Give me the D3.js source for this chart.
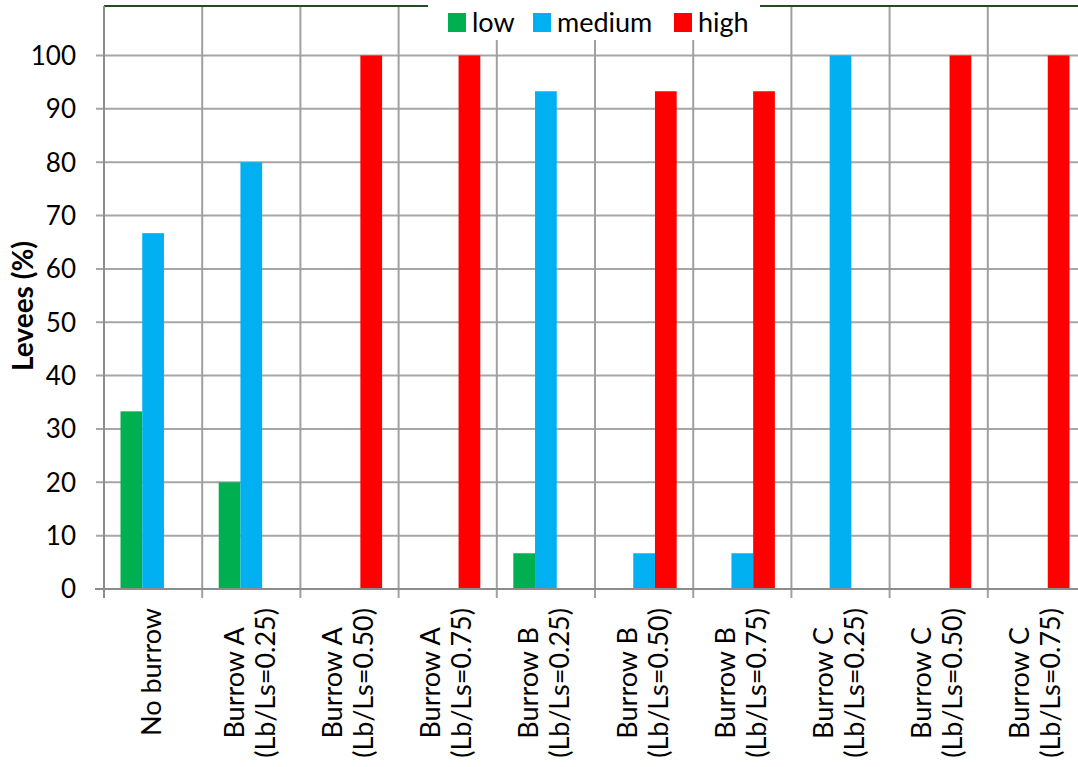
<!DOCTYPE html>
<html>
<head>
<meta charset="utf-8">
<script src="https://cdn.jsdelivr.net/npm/d3@7"></script>
<style>
  html, body { margin: 0; padding: 0; background: #fff; }
  svg { display: block; }
  text { font-family: Lato, "Open Sans", sans-serif; fill: #000; }
</style>
</head>
<body>
<svg id="chart" width="1078" height="767"></svg>
<script>
const categories = [
  ["No burrow"],
  ["Burrow A", "(Lb/Ls=0.25)"],
  ["Burrow A", "(Lb/Ls=0.50)"],
  ["Burrow A", "(Lb/Ls=0.75)"],
  ["Burrow B", "(Lb/Ls=0.25)"],
  ["Burrow B", "(Lb/Ls=0.50)"],
  ["Burrow B", "(Lb/Ls=0.75)"],
  ["Burrow C", "(Lb/Ls=0.25)"],
  ["Burrow C", "(Lb/Ls=0.50)"],
  ["Burrow C", "(Lb/Ls=0.75)"]
];
const seriesNames = ["low", "medium", "high"];
const lowValues    = [33.3, 20, 0, 0, 6.7, 0, 0, 0, 0, 0];
const mediumValues = [66.7, 80, 0, 0, 93.3, 6.7, 6.7, 100, 0, 0];
const highValues   = [0, 0, 100, 100, 0, 93.3, 93.3, 0, 100, 100];
const yTicks = [0, 10, 20, 30, 40, 50, 60, 70, 80, 90, 100];
const colors = ["#00B050", "#00B0F0", "#FF0000"];

const seriesValues = [lowValues, mediumValues, highValues];

const svg = d3.select("#chart");
const plotLeft = 104, plotRight = 1086, plotTop = 6, plotBottom = 589;

const y = d3.scaleLinear().domain([0, 100]).range([plotBottom, 55.5]);
const x0 = d3.scaleBand().domain(d3.range(categories.length)).range([plotLeft, plotRight]).padding(0);
const x1 = d3.scaleBand().domain(d3.range(seriesNames.length)).range([0, x0.bandwidth()]).paddingInner(0).paddingOuter(0.76);

// horizontal gridlines
svg.append("g").selectAll("line").data(yTicks.filter(d => d > 0)).join("line")
  .attr("x1", plotLeft - 8).attr("x2", plotRight)
  .attr("y1", d => y(d)).attr("y2", d => y(d))
  .attr("stroke", "#a6a6a6").attr("stroke-width", 2);

// vertical gridlines at category boundaries
const bounds = d3.range(categories.length + 1).map(i => plotLeft + i * x0.step());
svg.append("g").selectAll("line").data(bounds).join("line")
  .attr("x1", d => d).attr("x2", d => d)
  .attr("y1", plotTop).attr("y2", plotBottom + 9)
  .attr("stroke", "#a0a0a0").attr("stroke-width", 2);

// top border
svg.append("line").attr("x1", plotLeft).attr("x2", plotRight).attr("y1", plotTop).attr("y2", plotTop)
  .attr("stroke", "#234d20").attr("stroke-width", 2);

// bars
const groups = svg.append("g").selectAll("g").data(categories).join("g")
  .attr("transform", (d, i) => `translate(${x0(i)},0)`);
groups.selectAll("rect").data((d, i) => seriesValues.map((s, j) => ({ j, v: s[i] })))
  .join("rect")
  .attr("x", d => x1(d.j))
  .attr("width", x1.bandwidth())
  .attr("y", d => y(d.v))
  .attr("height", d => y(0) - y(d.v))
  .attr("fill", d => colors[d.j]);

// axes
svg.append("line").attr("x1", plotLeft).attr("x2", plotLeft).attr("y1", plotTop).attr("y2", plotBottom + 9)
  .attr("stroke", "#8c8c8c").attr("stroke-width", 2);
svg.append("line").attr("x1", plotLeft - 9).attr("x2", plotRight).attr("y1", plotBottom).attr("y2", plotBottom)
  .attr("stroke", "#8c8c8c").attr("stroke-width", 2);

svg.append("g").selectAll("text").data(yTicks).join("text")
  .attr("x", 76).attr("y", d => y(d)).attr("dy", "0.36em")
  .attr("text-anchor", "end").attr("font-size", 26)
  .text(d => d);

// y label
svg.append("text")
  .attr("transform", `translate(33,306) rotate(-90)`)
  .attr("text-anchor", "middle").attr("font-size", 28).attr("font-weight", "bold")
  .text("Levees (%)");

// x labels
const lineGap = 31;
categories.forEach((lines, i) => {
  const cx = x0(i) + x0.bandwidth() / 2;
  const g = svg.append("g");
  const texts = lines.map((t, k) => {
    const off = 8 + (k - (lines.length - 1) / 2) * lineGap;
    return g.append("text").attr("font-size", 27).attr("text-anchor", "middle")
      .attr("data-off", off).text(t);
  });
  const maxLen = d3.max(texts, t => t.node().getComputedTextLength());
  const cy = 608 + maxLen / 2;
  texts.forEach(t => {
    const off = +t.attr("data-off");
    t.attr("transform", `translate(${cx + off},${cy}) rotate(-90)`);
  });
});

// legend
const lg = svg.append("g");
lg.append("rect").attr("x", 428).attr("y", 0).attr("width", 332).attr("height", 40).attr("fill", "#fff");
const legendX = [448, 533, 674];
seriesNames.forEach((n, i) => {
  lg.append("rect").attr("x", legendX[i]).attr("y", 13).attr("width", 18).attr("height", 19).attr("fill", colors[i]);
  lg.append("text").attr("x", legendX[i] + 24).attr("y", 22).attr("dy", "0.36em")
    .attr("font-size", 27).text(n);
});
</script>
</body>
</html>
